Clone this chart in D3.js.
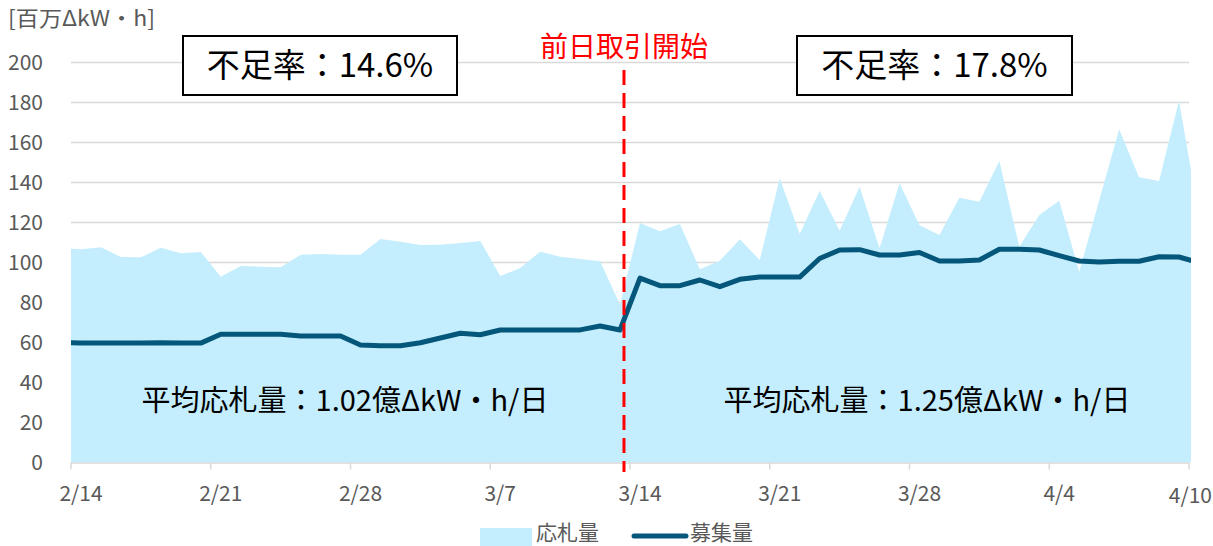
<!DOCTYPE html>
<html><head><meta charset="utf-8">
<script src="https://cdn.jsdelivr.net/npm/d3@7"></script>
<style>
body{margin:0;background:#fff;}
svg{display:block;font-family:"Noto Sans CJK JP","Noto Sans",sans-serif;}
</style></head>
<body>
<svg id="c" width="1213" height="546"></svg>
<script>
// categories (first and last are partially outside the visible plot area, clipped)
const categories = ["2/13","2/14","2/15","2/16","2/17","2/18","2/19","2/20","2/21","2/22","2/23","2/24","2/25","2/26","2/27","2/28",
"3/1","3/2","3/3","3/4","3/5","3/6","3/7","3/8","3/9","3/10","3/11","3/12","3/13","3/14","3/15","3/16","3/17","3/18","3/19","3/20",
"3/21","3/22","3/23","3/24","3/25","3/26","3/27","3/28","3/29","3/30","3/31","4/1","4/2","4/3","4/4","4/5","4/6","4/7","4/8","4/9","4/10","4/11"];
// 応札量 [百万ΔkW・h]
const bidValues = [107.2,106.6,107.6,102.75,102.6,107.4,104.6,105.25,92.9,98.25,97.9,97.6,103.9,104.25,103.9,103.9,
111.75,110.4,108.75,108.9,109.75,110.75,93.25,97.25,105.4,102.9,101.75,100.6,79,119.8,115.6,119.25,96.6,100.9,111.6,101.25,
142.1,114.25,135.9,115.9,137.9,107.1,139.6,118.6,113.75,132.4,130.4,150.75,107.9,123.75,130.9,95.4,131,166.6,142.6,140.75,180.9,123];
// 募集量 [百万ΔkW・h]
const recruitValues = [60,59.7,59.7,59.7,59.7,59.9,59.7,59.7,64.1,64.1,64.1,64.1,63.25,63.25,63.25,58.75,
58.4,58.4,59.9,62.25,64.6,63.9,66.25,66.25,66.25,66.25,66.3,68.25,66.25,92.2,88.4,88.4,91.25,87.9,91.6,92.7,
92.7,92.7,102,106.25,106.4,103.75,103.75,105,100.75,100.75,101.25,106.6,106.6,106.25,103.4,100.75,100.25,100.6,100.6,102.9,102.75,100];
const yTicks = [0,20,40,60,80,100,120,140,160,180,200];
const xTickLabels = ["2/14","2/21","2/28","3/7","3/14","3/21","3/28","4/4","4/10"];
const seriesNames = ["応札量","募集量"];
const startEvent = {label:"前日取引開始", date:"3/14"};
const shortageRates = ["不足率：14.6%","不足率：17.8%"];
const avgBids = ["平均応札量：1.02億ΔkW・h/日","平均応札量：1.25億ΔkW・h/日"];

const svg = d3.select("#c");
const L = 71, R = 1189, T = 62.5, B = 462.5;
const x = d3.scaleLinear().domain([0.5, 56.5]).range([L, R]);
const y = d3.scaleLinear().domain([0, 200]).range([B, T]);
const grey = "#595959";

svg.append("defs").append("clipPath").attr("id","clip")
  .append("rect").attr("x",L).attr("y",0).attr("width",R-L+2).attr("height",B);

// gridlines
svg.append("g").selectAll("line").data(yTicks.filter(d=>d>0)).join("line")
  .attr("x1",L).attr("x2",R).attr("y1",d=>y(d)).attr("y2",d=>y(d))
  .attr("stroke","#d9d9d9").attr("stroke-width",1.5);

const data = categories.map((c,i)=>({c,i,bid:bidValues[i],rec:recruitValues[i]}));
const g = svg.append("g").attr("clip-path","url(#clip)");
g.append("path").datum(data)
  .attr("d", d3.area().x(d=>x(d.i)).y0(y(0)).y1(d=>y(d.bid)))
  .attr("fill","#c4eefd");

// x axis
svg.append("line").attr("x1",L).attr("x2",R).attr("y1",B+0.5).attr("y2",B+0.5)
  .attr("stroke","#d9d9d9").attr("stroke-width",1.5);
const tickPos = d3.range(0,9).map(k=>x(0.5+7*k));
svg.append("g").selectAll("line").data(tickPos).join("line")
  .attr("x1",d=>d).attr("x2",d=>d).attr("y1",B).attr("y2",B+7)
  .attr("stroke","#d9d9d9").attr("stroke-width",1.5);

g.append("path").datum(data)
  .attr("d", d3.line().x(d=>x(d.i)).y(d=>y(d.rec)))
  .attr("fill","none").attr("stroke","#04577a").attr("stroke-width",5).attr("stroke-linejoin","round");

// y labels
svg.append("g").selectAll("text").data(yTicks).join("text")
  .attr("x",43).attr("y",d=>y(d)).attr("dy","0.36em").attr("text-anchor","end")
  .attr("font-size",21).attr("fill",grey).text(d=>d);
svg.append("text").attr("x",8).attr("y",26).attr("font-size",21).attr("fill",grey)
  .attr("textLength",147).attr("lengthAdjust","spacingAndGlyphs").text("[百万ΔkW・h]");

// x labels
xTickLabels.forEach((lab,k)=>{
  const idx = categories.indexOf(lab);
  const last = k===xTickLabels.length-1;
  svg.append("text").attr("x", last ? 1212 : x(idx)).attr("y", last?503:501)
    .attr("text-anchor", last ? "end":"middle").attr("font-size",21).attr("fill",grey).text(lab);
});

// red dashed line
const ex = x(categories.indexOf(startEvent.date)) - 16;
svg.append("line").attr("x1",ex).attr("x2",ex).attr("y1",70).attr("y2",472)
  .attr("stroke","#ff0000").attr("stroke-width",3).attr("stroke-dasharray","15,8");
svg.append("text").attr("x",ex).attr("y",57).attr("text-anchor","middle")
  .attr("font-size",28).attr("fill","#ff0000").text(startEvent.label);

// boxes
[[183,457],[797,1072]].forEach((b,i)=>{
  svg.append("rect").attr("x",b[0]).attr("y",36).attr("width",b[1]-b[0]).attr("height",59)
    .attr("fill","#fff").attr("stroke","#000").attr("stroke-width",2);
  svg.append("text").attr("x",(b[0]+b[1])/2).attr("y",77).attr("text-anchor","middle")
    .attr("font-size",33).attr("fill","#000").text(shortageRates[i]);
});
// averages
[345,927].forEach((cx,i)=>{
  svg.append("text").attr("x",cx).attr("y",411).attr("text-anchor","middle")
    .attr("font-size",29).attr("fill","#000").text(avgBids[i]);
});

// legend
svg.append("rect").attr("x",480).attr("y",528).attr("width",52).attr("height",18).attr("fill","#c4eefd");
svg.append("text").attr("x",536).attr("y",540).attr("font-size",21).attr("fill",grey).text(seriesNames[0]);
svg.append("line").attr("x1",634).attr("x2",686).attr("y1",536).attr("y2",536)
  .attr("stroke","#04577a").attr("stroke-width",5).attr("stroke-linecap","round");
svg.append("text").attr("x",690).attr("y",540).attr("font-size",21).attr("fill",grey).text(seriesNames[1]);
</script>
</body></html>
